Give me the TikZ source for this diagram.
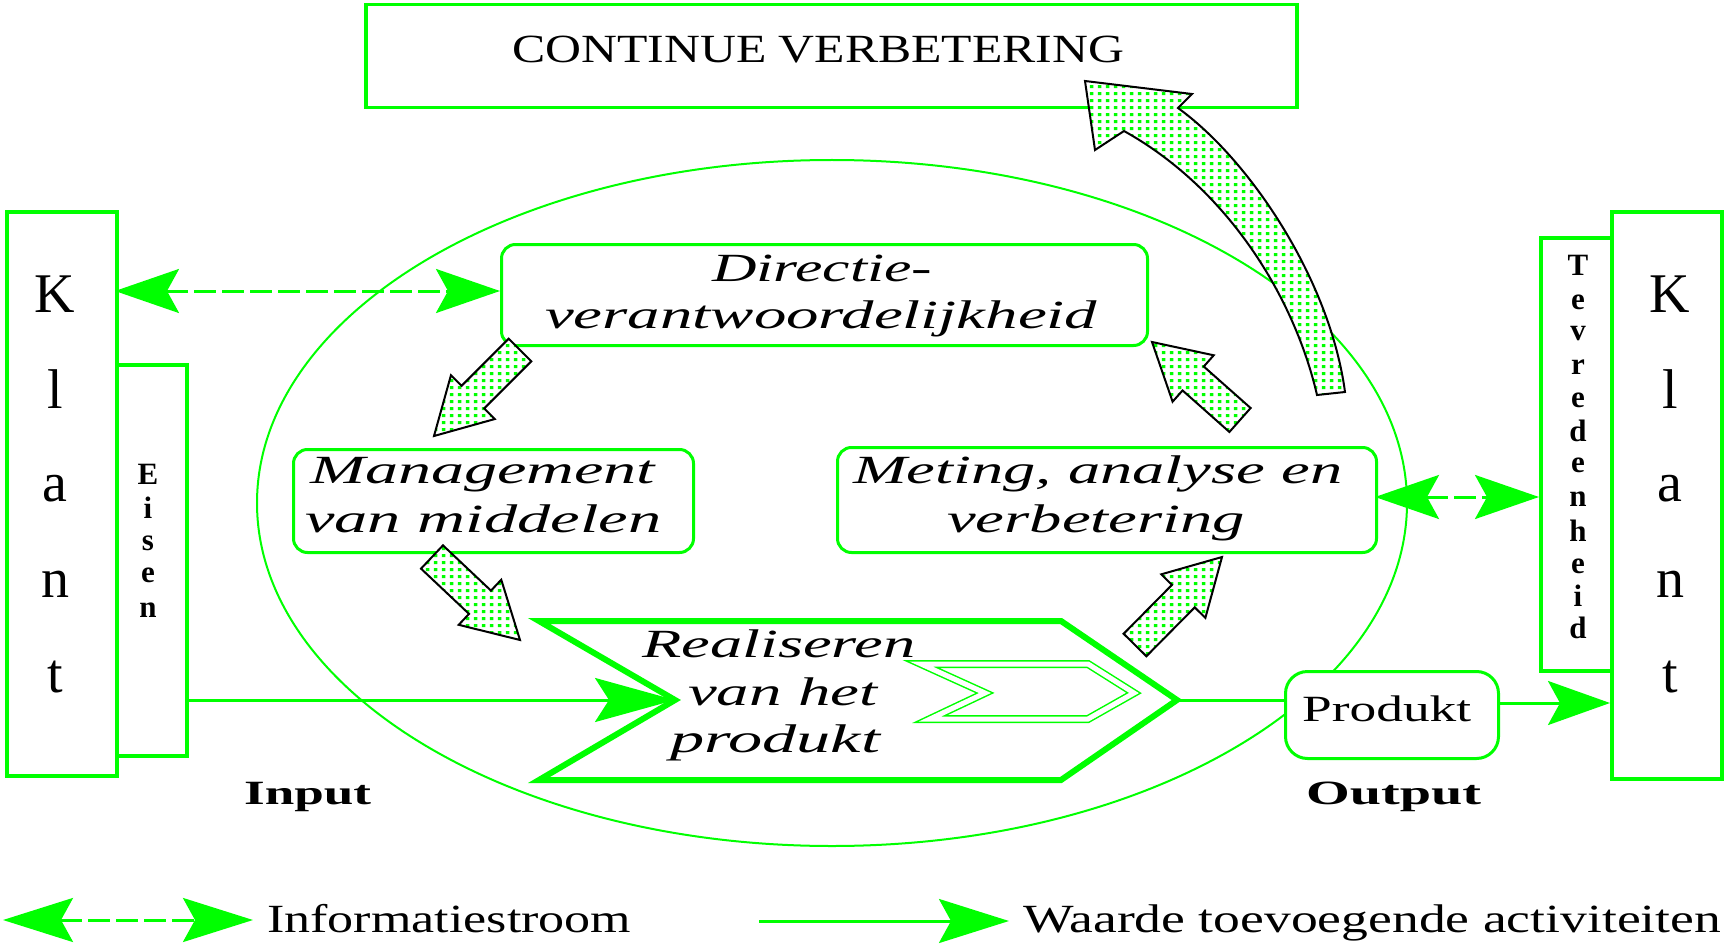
\documentclass[tikz,border=0pt]{standalone}
\usepackage{fontspec}
\setmainfont{Liberation Serif}
\usepackage{graphicx}
\usetikzlibrary{arrows.meta,calc,patterns}
\definecolor{lg}{RGB}{0,255,0}
\pgfdeclarepatternformonly{gdots}{\pgfqpoint{0pt}{0pt}}{\pgfqpoint{8pt}{7pt}}{\pgfqpoint{8pt}{7pt}}{\pgfpathrectangle{\pgfqpoint{2pt}{2pt}}{\pgfqpoint{4pt}{3.5pt}}\pgfusepath{fill}}
\newcommand\fitw[2]{\resizebox{#1pt}{\height}{#2}}
\newcommand\fatarr[2]{%
  \coordinate (fh) at ($(#2)!55pt!(#1)$);
  \draw[fat] ($(#1)!16pt!90:(#2)$) -- ($(fh)!16pt!90:(#2)$) -- ($(fh)!31pt!90:(#2)$) -- (#2)
     -- ($(fh)!31pt!-90:(#2)$) -- ($(fh)!16pt!-90:(#2)$) -- ($(#1)!16pt!-90:(#2)$) -- cycle;}
\tikzset{
  itip/.tip={Stealth[length=64pt,width=44pt,inset=12pt]},
  btip/.tip={Stealth[length=80pt,width=44pt,inset=14pt]},
  gline/.style={draw=lg, line width=3pt},
  info/.style={draw=lg, line width=3pt, dash pattern=on 22pt off 6pt, itip-itip},
  boxr/.style={draw=lg, line width=4pt, fill=white, rectangle, anchor=north west, inner sep=0pt},
  rbox/.style={draw=lg, line width=3pt, fill=white, rectangle, rounded corners=14pt, anchor=north west, inner sep=0pt},
  fat/.style={draw=black, line width=2pt, pattern=gdots, pattern color=lg, preaction={fill=white}, line join=miter},
  txt/.style={inner sep=0pt, anchor=base west, text=black},
  ltr/.style={inner sep=0pt, anchor=base, font=\fontsize{31}{31}\selectfont\bfseries},
  bigltr/.style={inner sep=0pt, anchor=base, font=\fontsize{56}{56}\selectfont},
  boxfont/.style={font=\fontsize{40}{40}\selectfont\itshape},
}
\begin{document}
\begin{tikzpicture}[x=1pt,y=-1pt]
\useasboundingbox (0,0) rectangle (1724,944);
\fill[white] (0,0) rectangle (1724,944);

% big cycle ellipse
\draw[lg, line width=2pt] (832,503) ellipse [x radius=575pt, y radius=343pt];

% boxes
\node[boxr, line width=3.5pt, minimum width=931pt, minimum height=103pt] (cont) at (364,3) {};
\node[boxr, minimum width=110pt, minimum height=564pt] (klantL) at (5,210) {};
\node[boxr, minimum width=70pt, minimum height=391pt] (eisen) at (115,363) {};
\node[boxr, minimum width=71pt, minimum height=433pt] (tevr) at (1539,236) {};
\node[boxr, minimum width=110pt, minimum height=567pt] (klantR) at (1610,210) {};
\node[rbox, minimum width=646pt, minimum height=101pt] (directie) at (500,243) {};
\node[rbox, minimum width=400pt, minimum height=103pt] (mgmt) at (292,448) {};
\node[rbox, minimum width=539pt, minimum height=105pt] (meting) at (836,446) {};
\node[rbox, rounded corners=22pt, minimum width=213pt, minimum height=87pt] (produkt) at (1284,670) {};

% realiseren shape
\coordinate (notch) at (675,700);
\coordinate (rtip) at (1177,700);
\draw[lg, line width=6pt, line join=miter, fill=white] (539,621) -- (1061,621) -- (rtip) -- (1061,780) -- (539,780) -- (notch) -- cycle;
\draw[lg, line width=1.5pt, double=white, double distance=5pt, line join=miter]
  (921,664) -- (1088,664) -- (1134,693) -- (1088,719) -- (930,719) -- (985,693) -- cycle;

% value-adding flow
\draw[gline, -btip] (eisen.east |- notch) -- (notch);
\draw[gline] (rtip) -- (rtip -| produkt.west);
\coordinate (pk) at (1497,703);
\draw[gline, -{Stealth[length=62pt,width=44pt,inset=12pt]}] (pk) -- (pk -| klantR.west);

% information flows
\coordinate (i1) at (115,291);
\draw[info] (i1) -- (i1 -| directie.west);
\coordinate (i2) at (1375,497);
\draw[info] (i2) -- (i2 -| tevr.west);

% fat cycle arrows
\coordinate (aT) at (520,350); \coordinate (aH) at (434,436);
\coordinate (bT) at (432,557); \coordinate (bH) at (520,640);
\coordinate (cT) at (1135,645); \coordinate (cH) at (1222,557);
\coordinate (dT) at (1240,420); \coordinate (dH) at (1152,342);
\fatarr{aT}{aH}
\fatarr{bT}{bH}
\fatarr{cT}{cH}
\fatarr{dT}{dH}

% big curved arrow to continue verbetering
\draw[fat] (1317,395) .. controls (1295,300) and (1230,190) .. (1124,131) -- (1095,150) -- (1085,81)
  -- (1192,94) -- (1178,108) .. controls (1250,160) and (1330,280) .. (1345,392) -- cycle;

% texts
\node[txt, font=\fontsize{40}{40}\selectfont] (tcont) at (512,63) {\fitw{612}{CONTINUE VERBETERING}};
\node[txt, boxfont] (td1) at (712,281) {\fitw{220}{Directie-}};
\node[txt, boxfont] (td2) at (545,328) {\fitw{552}{verantwoordelijkheid}};
\node[txt, boxfont] (tm1) at (310,483) {\fitw{345}{Management}};
\node[txt, boxfont] (tm2) at (305,532) {\fitw{356}{van middelen}};
\node[txt, boxfont] (tg1) at (853,483) {\fitw{489}{Meting, analyse en}};
\node[txt, boxfont] (tg2) at (947,532) {\fitw{298}{verbetering}};
\node[txt, boxfont] (tr1) at (642,657) {\fitw{273}{Realiseren}};
\node[txt, boxfont] (tr2) at (688,705) {\fitw{189}{van het}};
\node[txt, boxfont] (tr3) at (670,752) {\fitw{210}{produkt}};
\node[txt, font=\fontsize{37}{37}\selectfont] (tp) at (1302,721) {\fitw{169}{Produkt}};
\node[txt, font=\fontsize{34}{34}\selectfont\bfseries] (tin) at (244,804) {\fitw{127}{Input}};
\node[txt, font=\fontsize{34}{34}\selectfont\bfseries] (tout) at (1306,804) {\fitw{175}{Output}};

% Klant letters
\foreach \c/\y in {K/312,l/408,a/501,n/597,t/692}{
  \node[bigltr] at (55,\y) {\c};
  \node[bigltr] at (1670,\y) {\c};
}
\foreach \c/\y in {E/484,i/518,s/550,e/582,n/617}{
  \node[ltr] at (148,\y) {\c};
}
\foreach \c/\y in {T/275,e/309,v/340,r/374,e/407,d/441,e/472,n/506,h/541,e/573,i/606,d/638}{
  \node[ltr] at (1578,\y) {\c};
}

% legend
\coordinate (l1a) at (3,920); \coordinate (l1b) at (253,920);
\draw[info, {Stealth[length=70pt,width=44pt,inset=12pt]}-{Stealth[length=70pt,width=44pt,inset=12pt]}] (l1a) -- (l1b);
\node[txt, font=\fontsize{40}{40}\selectfont] (tleg1) at (267,932) {\fitw{364}{Informatiestroom}};
\coordinate (l2a) at (759,921); \coordinate (l2b) at (1009,921);
\draw[gline, -{Stealth[length=70pt,width=44pt,inset=12pt]}] (l2a) -- (l2b);
\node[txt, font=\fontsize{40}{40}\selectfont] (tleg2) at (1023,932) {\fitw{698}{Waarde toevoegende activiteiten}};
\end{tikzpicture}
\end{document}
